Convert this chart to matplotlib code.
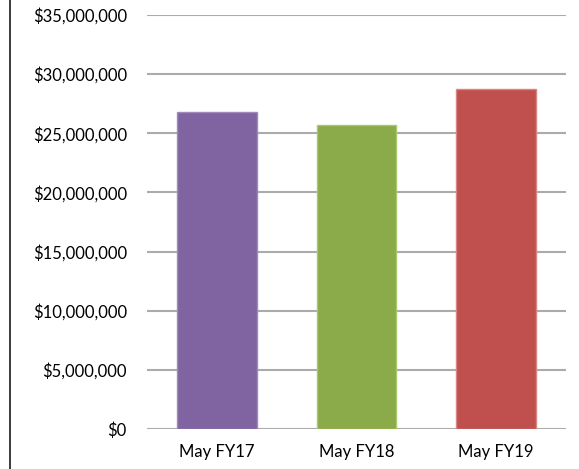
import matplotlib
matplotlib.use('Agg')
import matplotlib.pyplot as plt
from matplotlib.ticker import FuncFormatter
from matplotlib.lines import Line2D

categories = ['May FY17', 'May FY18', 'May FY19']
values = [26780000, 25680000, 28760000]
colors = ['#8064A2', '#8BAA4A', '#C0504D']
edges = ['#9F8AB8', '#A9C96A', '#D98583']

plt.rcParams['font.family'] = ['Lato', 'DejaVu Sans']

fig = plt.figure(figsize=(5.79, 4.69), dpi=100)
ax = fig.add_axes([147 / 579, 1 - 429 / 469, (566 - 147) / 579, (429 - 15) / 469])

ax.bar(categories, values, width=0.57, color=colors, edgecolor=edges, linewidth=1, zorder=3)

ax.set_ylim(0, 35000000)
ax.set_yticks(range(0, 35000001, 5000000))
ax.yaxis.set_major_formatter(FuncFormatter(lambda v, p: '${:,.0f}'.format(v)))
ax.set_xlim(-0.5, 2.5)
ax.grid(axis='y', color='#ABABAB', linewidth=1.5, zorder=0)
for s in ax.spines.values():
	s.set_visible(False)
ax.tick_params(axis='both', length=0, labelsize=12, colors='black')
ax.tick_params(axis='y', pad=14.5)
ax.tick_params(axis='x', pad=11)

# frame line on the left edge
fig.add_artist(Line2D([10 / 579, 10 / 579], [0, 1], color='#1a1a1a', linewidth=1.2, transform=fig.transFigure))

fig.savefig('out.png', dpi=100)
